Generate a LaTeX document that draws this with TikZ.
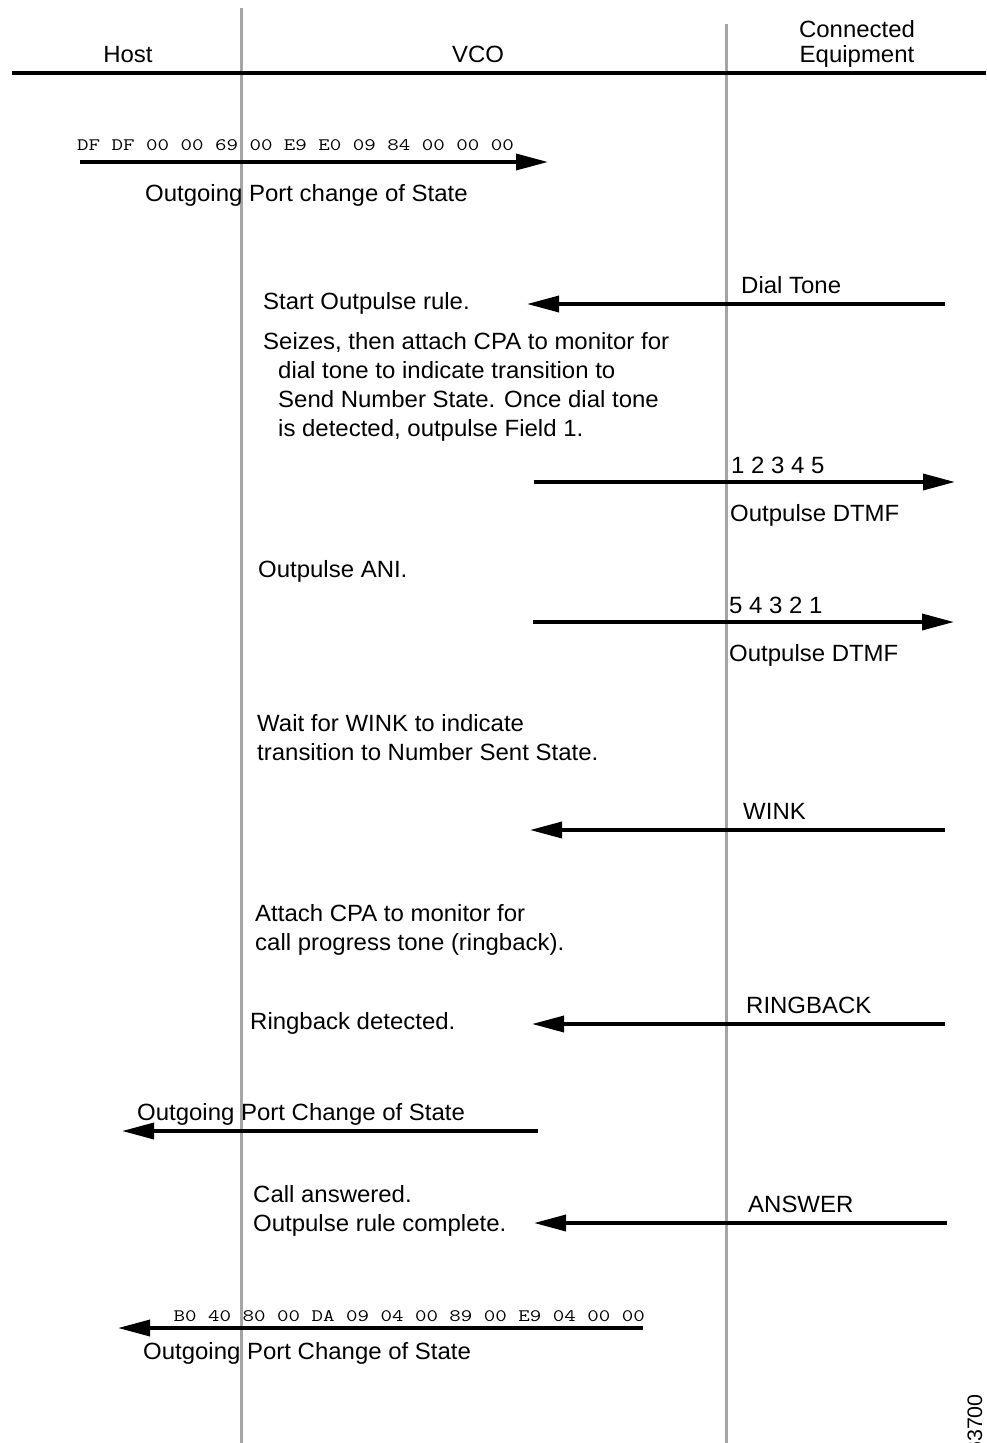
\documentclass[tikz,border=0pt]{standalone}
\usepackage{fontspec}
\setmainfont{Liberation Sans}[FakeStretch=1.02]
\newfontfamily\hexfont{Latin Modern Mono}[FakeStretch=1.275]
\usetikzlibrary{arrows.meta}
\definecolor{lifeline}{RGB}{165,165,165}
\begin{document}
\begin{tikzpicture}[x=1pt,y=-1pt,
  lbl/.style={inner sep=0pt, anchor=base west, font=\fontsize{23.5}{28}\selectfont},
  hdr/.style={inner sep=0pt, anchor=base, font=\fontsize{23.5}{28}\selectfont},
  hex/.style={inner sep=0pt, anchor=base west, font=\hexfont\fontsize{17.5}{20}\selectfont},
  msg/.style={line width=3.5pt, -{Triangle[length=32pt,width=16pt]}},
  life/.style={draw=lifeline, line width=3pt},
]
\useasboundingbox (0,0) rectangle (986,1443);

% lifelines
\coordinate (hvTop) at (241,8);
\coordinate (hvBot) at (241,1443);
\coordinate (ceTop) at (726,24);
\coordinate (ceBot) at (726,1443);
\draw[life] (hvTop) -- (hvBot);
\draw[life] (ceTop) -- (ceBot);

% header
\coordinate (hdrL) at (12,73);
\coordinate (hdrR) at (986,73);
\draw[line width=3.5pt] (hdrL) -- (hdrR);
\node[hdr] (host) at (128,62) {Host};
\node[hdr] (vco) at (478,62) {VCO};
\node[hdr] (conn) at (857,37) {Connected};
\node[hdr] (equip) at (857,62) {Equipment};

% message 1
\node[hex] (hex1) at (77,150) {DF DF 00 00 69 00 E9 E0 09 84 00 00 00};
\coordinate (m1s) at (80,162);
\coordinate (m1e) at (548,162);
\draw[msg] (m1s) -- (m1e);
\node[lbl] (ops1) at (145,201) {Outgoing Port change of State};

% dial tone
\node[lbl] (dial) at (741,293) {Dial Tone};
\coordinate (m2s) at (945,304);
\coordinate (m2e) at (527,304);
\draw[msg] (m2s) -- (m2e);
\node[lbl] (start) at (263,309) {Start Outpulse rule.};
\node[lbl] (seize1) at (263,349) {Seizes, then attach CPA to monitor for};
\node[lbl] (seize2) at (278,378) {dial tone to indicate transition to};
\node[lbl] (seize3) at (278,407) {Send Number State. Once dial tone};
\node[lbl] (seize4) at (278,436) {is detected, outpulse Field 1.};

% 12345
\node[lbl] (d1) at (731,473) {1 2 3 4 5};
\coordinate (m3s) at (534,482);
\coordinate (m3e) at (955,482);
\draw[msg] (m3s) -- (m3e);
\node[lbl] (dtmf1) at (730,521) {Outpulse DTMF};

\node[lbl] (ani) at (258,577) {Outpulse ANI.};

% 54321
\node[lbl] (d2) at (729,613) {5 4 3 2 1};
\coordinate (m4s) at (533,622);
\coordinate (m4e) at (954,622);
\draw[msg] (m4s) -- (m4e);
\node[lbl] (dtmf2) at (729,661) {Outpulse DTMF};

\node[lbl] (wait1) at (257,731) {Wait for WINK to indicate};
\node[lbl] (wait2) at (257,760) {transition to Number Sent State.};

% wink
\node[lbl] (wink) at (743,819) {WINK};
\coordinate (m5s) at (945,830);
\coordinate (m5e) at (530,830);
\draw[msg] (m5s) -- (m5e);

\node[lbl] (att1) at (255,921) {Attach CPA to monitor for};
\node[lbl] (att2) at (255,950) {call progress tone (ringback).};

% ringback
\node[lbl] (ring) at (746,1013) {RINGBACK};
\coordinate (m6s) at (945,1024);
\coordinate (m6e) at (532,1024);
\draw[msg] (m6s) -- (m6e);
\node[lbl] (ringdet) at (250,1029) {Ringback detected.};

% outgoing port change
\node[lbl] (ops2) at (137,1120) {Outgoing Port Change of State};
\coordinate (m7s) at (538,1131);
\coordinate (m7e) at (122,1131);
\draw[msg] (m7s) -- (m7e);

% answer
\node[lbl] (ans1) at (253,1202) {Call answered.};
\node[lbl] (ans2) at (253,1231) {Outpulse rule complete.};
\node[lbl] (answer) at (748,1212) {ANSWER};
\coordinate (m8s) at (947,1223);
\coordinate (m8e) at (534,1223);
\draw[msg] (m8s) -- (m8e);

% final
\node[hex, anchor=base east] (hex2) at (645,1321) {B0 40 80 00 DA 09 04 00 89 00 E9 04 00 00};
\coordinate (m9s) at (643,1328);
\coordinate (m9e) at (118,1328);
\draw[msg] (m9s) -- (m9e);
\node[lbl] (ops3) at (143,1359) {Outgoing Port Change of State};

% figure number
\node[lbl, anchor=base east, rotate=90, font=\fontsize{21}{25}\selectfont] (fignum) at (982,1394) {63700};
\end{tikzpicture}
\end{document}
